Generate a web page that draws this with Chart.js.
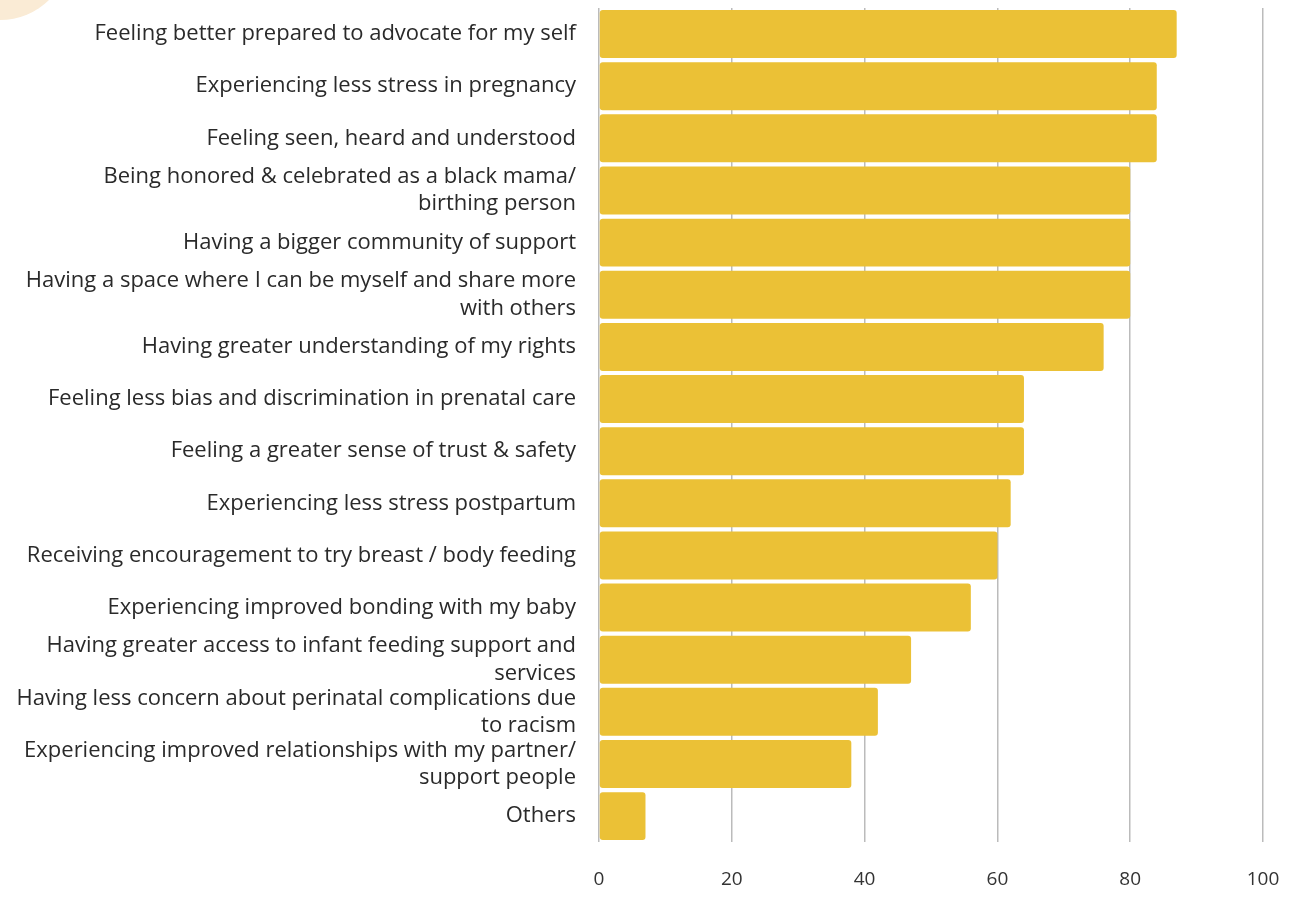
<!DOCTYPE html>
<html>
<head>
<meta charset="utf-8">
<script src="https://cdn.jsdelivr.net/npm/chart.js@4.4.1/dist/chart.umd.min.js"></script>
<style>
    html, body { margin: 0; padding: 0; background: #fff; }
    #wrap { position: relative; width: 1295px; height: 899px; overflow: hidden; }
    #blob { position: absolute; left: -70px; top: -120px; width: 140px; height: 140px; border-radius: 50%; background: #faebd5; }
    #chart { position: absolute; left: 0; top: 0; }
</style>
</head>
<body>
<div id="wrap">
    <div id="blob"></div>
    <canvas id="chart" width="1295" height="899"></canvas>
</div>
<script>
const categories = [
    'Feeling better prepared to advocate for my self',
    'Experiencing less stress in pregnancy',
    'Feeling seen, heard and understood',
    ['Being honored & celebrated as a black mama/', 'birthing person'],
    'Having a bigger community of support',
    ['Having a space where I can be myself and share more', 'with others'],
    'Having greater understanding of my rights',
    'Feeling less bias and discrimination in prenatal care',
    'Feeling a greater sense of trust & safety',
    'Experiencing less stress postpartum',
    'Receiving encouragement to try breast / body feeding',
    'Experiencing improved bonding with my baby',
    ['Having greater access to infant feeding support and', 'services'],
    ['Having less concern about perinatal complications due', 'to racism'],
    ['Experiencing improved relationships with my partner/', 'support people'],
    'Others'
];
const percentages = [87, 84, 84, 80, 80, 80, 76, 64, 64, 62, 60, 56, 47, 42, 38, 7];
const xTicks = [0, 20, 40, 60, 80, 100];

document.addEventListener('DOMContentLoaded', function () {
    const ctx = document.getElementById('chart').getContext('2d');

    new Chart(ctx, {
        type: 'bar',
        data: {
            labels: categories,
            datasets: [{
                data: percentages,
                backgroundColor: '#ebc136',
                borderWidth: 0,
                borderRadius: 3,
                borderSkipped: false,
                barPercentage: 0.92,
                categoryPercentage: 1
            }]
        },
        options: {
            indexAxis: 'y',
            responsive: false,
            animation: false,
            layout: { padding: { top: 8, right: 32, bottom: -18, left: 0 } },
            scales: {
                x: {
                    min: 0,
                    max: 100,
                    afterBuildTicks: function (axis) {
                        axis.ticks = xTicks.map(v => ({ value: v }));
                    },
                    afterFit: function (axis) {
                        axis.paddingLeft = 0;
                        axis.paddingRight = 0;
                    },
                    grid: { color: '#bbbbbb', lineWidth: 1.5, drawTicks: false },
                    border: { display: false },
                    ticks: {
                        padding: 26,
                        color: '#333',
                        font: { family: 'Open Sans', size: 19 }
                    }
                },
                y: {
                    afterFit: function (axis) {
                        axis.width = 599;
                        axis.paddingTop = 0;
                        axis.paddingBottom = 0;
                    },
                    grid: { display: false, drawTicks: false },
                    border: { display: false },
                    ticks: {
                        padding: 23,
                        color: '#2a2a2a',
                        autoSkip: false,
                        font: { family: 'Open Sans', size: 22, lineHeight: 1.23 }
                    }
                }
            },
            plugins: {
                legend: { display: false },
                tooltip: { enabled: false }
            }
        }
    });
});
</script>
</body>
</html>
